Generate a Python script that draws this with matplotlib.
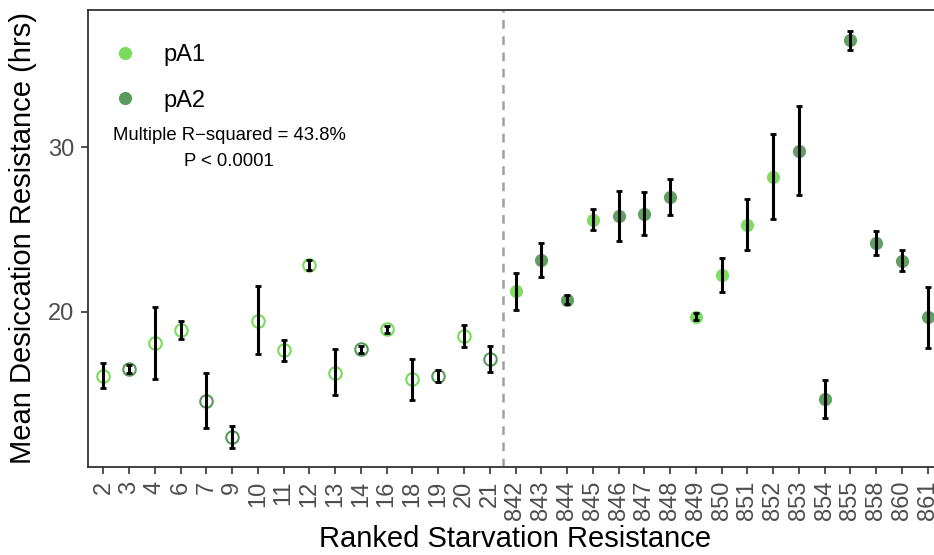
import numpy as np
import matplotlib
matplotlib.use("Agg")
from matplotlib import pyplot as plt
from matplotlib.lines import Line2D

plt.rcParams['font.family'] = ['Liberation Sans', 'DejaVu Sans']

# ranked starvation resistance lines (x categories)
lines = ['2', '3', '4', '6', '7', '9', '10', '11', '12', '13', '14', '16', '18', '19', '20', '21',
         '842', '843', '844', '845', '846', '847', '848', '849', '850', '851', '852', '853',
         '854', '855', '858', '860', '861']
# population group of each line
groups = ['pA1', 'pA2', 'pA1', 'pA1', 'pA2', 'pA2', 'pA1', 'pA1', 'pA1', 'pA1', 'pA2', 'pA1',
          'pA1', 'pA2', 'pA1', 'pA2',
          'pA1', 'pA2', 'pA2', 'pA1', 'pA2', 'pA2', 'pA2', 'pA1', 'pA1', 'pA1', 'pA1', 'pA2',
          'pA2', 'pA2', 'pA2', 'pA2', 'pA2']
# mean desiccation resistance (hrs)
means = [16.09, 16.53, 18.08, 18.87, 14.56, 12.37, 19.45, 17.65, 22.84, 16.29, 17.73, 18.93,
         15.89, 16.10, 18.50, 17.12,
         21.24, 23.15, 20.71, 25.58, 25.82, 25.96, 27.00, 19.70, 22.23, 25.30, 28.22, 29.78,
         14.67, 36.52, 24.20, 23.11, 19.66]
upper = [16.86, 16.76, 20.29, 19.45, 16.25, 13.04, 21.58, 18.30, 23.13, 17.71, 17.93, 19.11,
         17.12, 16.47, 19.17, 17.91,
         22.36, 24.20, 21.00, 26.25, 27.35, 27.30, 28.09, 19.90, 23.27, 26.86, 30.80, 32.52,
         15.82, 37.08, 24.91, 23.76, 21.50]
lower = [15.34, 16.29, 15.90, 18.32, 12.90, 11.69, 17.41, 17.02, 22.56, 14.93, 17.47, 18.72,
         14.64, 15.72, 17.85, 16.33,
         20.09, 22.11, 20.45, 24.95, 24.32, 24.65, 25.89, 19.48, 21.22, 23.76, 25.62, 27.10,
         13.53, 35.93, 23.47, 22.46, 17.81]
n_low = 16  # first 16 lines are the low-starvation selected lines (open symbols)

colors = {'pA1': '#78dc5a', 'pA2': '#5a9a5a'}

fig = plt.figure(figsize=(9.34, 5.55), dpi=100)
ax = fig.add_axes([88 / 934, 88 / 555, 855 / 934, 457 / 555])

x = np.arange(len(lines))
for i in range(len(lines)):
    c = colors[groups[i]]
    if i < n_low:
        ax.plot(x[i], means[i], 'o', ms=9, mfc='none', mec=c, mew=1.5, zorder=2)
    else:
        ax.plot(x[i], means[i], 'o', ms=9.5, mfc=c, mec='none', alpha=0.95, zorder=2)
    ax.errorbar(x[i], means[i],
                yerr=[[means[i] - lower[i]], [upper[i] - means[i]]],
                fmt='none', ecolor='black', elinewidth=2.2, capsize=2, capthick=2, zorder=3)

ax.axvline(n_low - 0.5, color='#a0a0a0', lw=1.8, ls=(0, (3.5, 3)), zorder=1)

ax.set_xlim(-0.6, 32.6)
ax.set_ylim(10.55, 38.36)
ax.set_xticks(x)
ax.set_xticklabels(lines, rotation=90, fontsize=17, color='#4d4d4d')
ax.set_yticks([20, 30])
ax.set_yticklabels(['20', '30'], fontsize=17, color='#4d4d4d')
ax.tick_params(axis='both', length=5, width=1.2, color='#333333', pad=5)
for s in ax.spines.values():
    s.set_color('#333333')
    s.set_linewidth(1.3)

ax.set_xlabel('Ranked Starvation Resistance', fontsize=21, labelpad=3)
ax.set_ylabel('Mean Desiccation Resistance (hrs)', fontsize=21, labelpad=8)

handles = [Line2D([], [], marker='o', ls='none', ms=9.5, mfc=colors[g], mec='none', label=g)
           for g in ['pA1', 'pA2']]
ax.legend(handles=handles, loc='upper left', bbox_to_anchor=(0.0, 1 - 9 / 457), frameon=False,
          fontsize=17, labelspacing=0.99, handlelength=1.0, handletextpad=1.11,
          borderaxespad=0.67)

fig.text(229 / 934, 1 - 135 / 555, 'Multiple R\u2212squared = 43.8%', ha='center', va='center',
         fontsize=13.3)
fig.text(229 / 934, 1 - 162 / 555, 'P < 0.0001', ha='center', va='center', fontsize=13.3)

fig.savefig('out.png', dpi=100)
